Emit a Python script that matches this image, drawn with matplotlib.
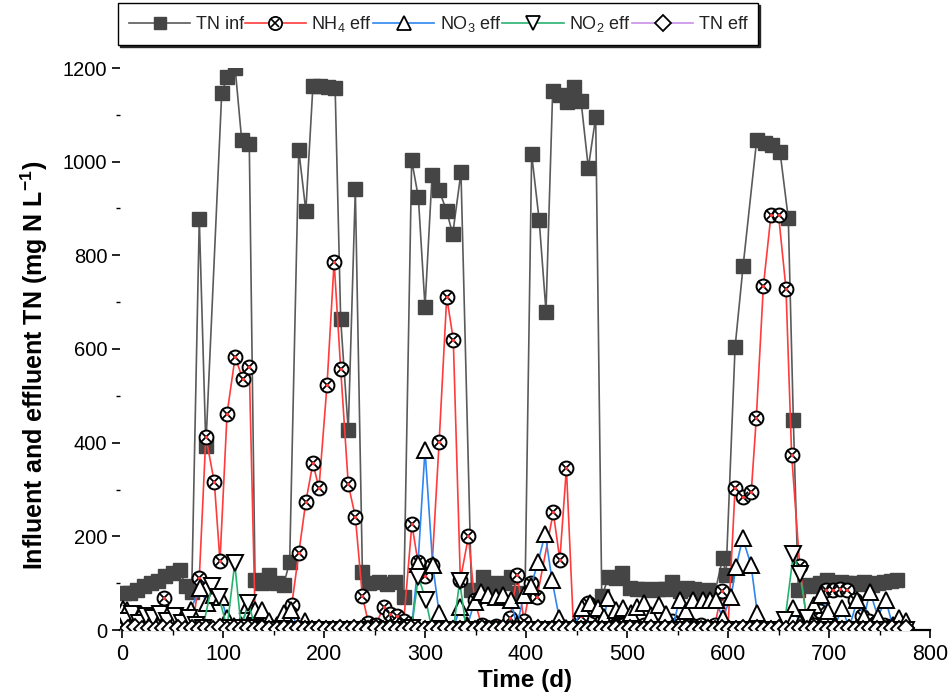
import matplotlib
matplotlib.use('Agg')
import matplotlib.pyplot as plt
from matplotlib.lines import Line2D
from matplotlib.ticker import MultipleLocator

plt.rcParams['font.family'] = ['Liberation Sans', 'DejaVu Sans']
plt.rcParams['mathtext.default'] = 'regular'

# ---------------- data ----------------
t_tn_inf = [2, 8, 15, 22, 29, 36, 43, 50, 57, 63, 69,
            76.5, 83, 98.7, 104, 112, 118.5, 126, 131.7, 139, 146, 153, 160, 166,
            175, 182, 189, 196, 204, 211, 216.5, 224, 231, 238, 245, 254, 262, 270, 279,
            286.8, 293.4, 300, 307, 314, 321.5, 327.4, 335.6, 346, 357, 364, 371, 378, 385, 392, 399,
            405.6, 413, 419.8, 426.4, 433.7, 440.3, 447.5, 454.5, 461.7, 469,
            475, 482, 489, 495, 503, 510, 517, 524, 531, 538, 545, 552, 559, 566, 573, 580, 587, 594.7, 598,
            607, 615, 628.4, 636.6, 644, 651.5, 659.7, 664.7, 669.6, 677, 684, 691, 698, 705, 711.5, 717,
            723, 729, 734.6, 743, 749, 754.5, 761, 767.6]
v_tn_inf = [78, 80, 85, 95, 100, 105, 115, 122, 128, 95, 82,
            878, 393, 1146, 1181, 1200, 1046, 1038, 107, 100, 118, 100, 96, 146,
            1025, 895, 1161, 1161, 1159, 1158, 663, 426, 941, 123, 100, 103, 98, 103, 71,
            1003, 924, 690, 972, 939, 894, 845, 977, 85, 114, 100, 95, 100, 114, 80, 75,
            1016, 876, 680, 1151, 1143, 1127, 1159, 1129, 987, 1095,
            72, 114, 110, 122, 89, 88, 87, 85, 87, 88, 103, 84, 90, 88, 82, 85, 80, 153, 117,
            604, 778, 1046, 1039, 1036, 1021, 879, 448, 86, 96, 95, 100, 107, 100, 103, 100,
            100, 98, 103, 96, 100, 103, 105, 107]

t_nh4 = [1, 8, 15, 22, 29, 36, 42, 49, 56, 63, 70,
         76.5, 83, 91.4, 97, 104, 112, 119.5, 126, 132, 139, 146, 153, 160,
         168, 175, 182, 189, 195, 203, 210, 216.5, 224, 231, 238, 244, 251, 259, 265, 272, 279,
         287, 293, 300, 307, 314, 321.5, 328, 335, 343, 349, 356, 363, 370, 377, 384, 391.4, 398, 405,
         411, 427, 433.5, 440, 447, 454, 461, 468, 475, 482, 489, 496, 503, 510, 517, 524, 531, 538,
         545, 552, 559, 566, 573, 580, 587, 594, 600,
         607, 615, 623, 628, 635, 642.6, 650, 657.4, 663, 671, 678, 685, 691, 697, 704, 711, 718,
         726, 733, 740, 747, 754, 761, 768]
v_nh4 = [10, 12, 20, 15, 25, 30, 68, 20, 15, 10, 8,
         111, 413, 315, 147, 462, 583, 536, 561, 8, 5, 8, 5, 10,
         53, 164, 274, 356, 303, 524, 786, 558, 311, 242, 72, 15, 10, 49, 35, 30, 20,
         226, 145, 115, 138, 402, 711, 620, 107, 200, 64, 10, 5, 8, 5, 25, 117, 20, 100,
         71, 251, 150, 346, 5, 30, 57, 40, 20, 15, 8, 10, 5, 8, 10, 5, 8, 5,
         20, 10, 5, 8, 10, 5, 10, 84, 5,
         303, 285, 294, 452, 734, 887, 887, 729, 374, 137, 20, 10, 40, 85, 85, 88, 85,
         64, 30, 20, 15, 10, 8, 5]

t_no3 = [1, 5, 12, 19, 26, 33, 40, 47, 54, 61, 68, 77, 84, 91, 98, 104, 111, 118, 125, 132,
         139, 146, 153, 160.7, 167, 174, 181, 188, 195, 202, 209, 216, 223, 230, 237, 244, 251, 258,
         265, 272, 279, 287, 293, 300, 307.6, 314, 321, 328, 335, 342, 349, 355.8, 362.4, 370, 377,
         384.8, 391, 398, 405, 412, 419, 425.7, 433, 440, 447, 455, 463, 471, 477.5, 481, 489, 496,
         504, 510, 517, 524, 532, 538.6, 545, 552, 558, 565, 575, 582, 588, 594.7, 603, 608, 614.5,
         622.8, 629, 636, 643, 650, 657, 664.7, 671, 678, 685, 692, 699, 706, 713, 720, 728, 734.7,
         740.6, 748.5, 756, 763, 769, 776]
v_no3 = [45, 43, 30, 35, 20, 28, 25, 20, 30, 25, 43, 90, 57, 75, 70, 25, 8, 10, 53, 43,
         43, 20, 10, 36, 43, 5, 20, 3, 3, 3, 3, 3, 3, 3, 3, 3, 3, 3,
         3, 3, 3, 10, 140, 385, 139, 36, 3, 3, 50, 10, 60, 82, 75, 70, 75,
         64, 10, 75, 94, 146, 206, 107, 25, 5, 3, 46, 57, 46, 28, 68, 43, 46,
         36, 50, 57, 32, 53, 34, 5, 64, 40, 64, 64, 64, 64, 25, 71, 135, 196,
         139, 36, 3, 3, 3, 3, 46, 16, 3, 53, 75, 40, 10, 46, 5, 64, 28,
         82, 28, 65, 10, 25, 20]

t_no2 = [3, 10, 17, 24, 31, 38, 45, 52, 59, 66, 73, 80, 89, 96, 104, 111.6, 118, 125, 132, 139,
         146, 153, 160, 167, 174, 181, 188, 195, 202, 209, 216, 223, 230, 237, 244, 251, 258, 265,
         272, 279, 286.8, 293.4, 300.7, 307, 314, 321, 328, 334.3, 341, 348, 355, 362, 369, 376,
         383, 390, 397, 404, 411, 418, 425, 432, 439, 446, 453, 460, 467, 474, 481, 488, 495, 502,
         509, 516, 523, 530, 537, 544, 551, 558, 565, 572, 579, 586, 593, 600, 607, 614, 621, 628,
         635, 642, 649, 656.4, 664.7, 671.3, 678, 685, 692, 699, 706, 713, 720, 727, 734, 741, 748,
         755, 762, 769, 776]
v_no2 = [20, 35, 15, 30, 25, 35, 20, 30, 15, 25, 10, 5, 95, 70, 5, 142, 5, 58, 5, 0,
         0, 0, 0, 0, 0, 0, 0, 0, 0, 0, 0, 0, 0, 0, 0, 0, 0, 0,
         0, 0, 5, 114, 65, 0, 0, 0, 0, 104, 0, 0, 0, 0, 0, 0,
         0, 0, 0, 0, 0, 0, 0, 0, 0, 0, 0, 0, 0, 0, 0, 0, 0, 0,
         0, 0, 0, 0, 0, 0, 0, 0, 0, 0, 0, 0, 0, 0, 0, 0, 0, 0,
         0, 0, 0, 21, 162, 119, 25, 0, 0, 0, 0, 0, 0, 0, 0, 0, 0,
         0, 0, 0, 0]

t_tn_eff = [6, 13, 20, 27, 34, 41, 48, 55, 62, 69, 76, 83, 90, 97, 104, 111, 118, 125, 132, 139,
            146, 153, 160, 167, 174, 181, 188, 195, 202, 209, 216, 223, 230, 237, 244, 251, 258, 265,
            272, 279, 286, 293, 300, 307, 314, 321, 328, 335, 342, 349, 356, 363, 370, 377, 384, 391,
            398, 405, 412, 419, 426, 433, 440, 447, 454, 461, 468, 475, 482, 489, 496, 503, 510, 517,
            524, 531, 538, 545, 552, 559, 566, 573, 580, 587, 594, 601, 608, 615, 622, 629, 636, 643,
            650, 657, 664, 671, 678, 685, 692, 699, 706, 713, 720, 727, 734, 741, 748, 755, 762, 769, 776]
v_tn_eff = [4, 6, 3, 5, 2, 4, 3, 5, 2, 4,
            3, 5, 3, 6, 2, 4, 3, 5, 2, 4,
            3, 2, 4, 3, 5, 2, 3, 4, 2, 3,
            5, 2, 4, 3, 2, 4, 3, 5, 2, 3,
            4, 2, 3, 5, 2, 4, 3, 2, 4, 3,
            5, 2, 3, 4, 2, 3, 5, 2, 4, 3,
            2, 4, 3, 5, 2, 3, 4, 2, 3, 5,
            2, 4, 3, 2, 4, 3, 5, 2, 3, 4,
            2, 3, 5, 2, 4, 3, 2, 4, 3, 5,
            2, 3, 4, 2, 3, 5, 2, 4, 3, 2,
            4, 3, 5, 2, 3, 4, 2, 3, 5, 2,
            4]

labels = ['TN inf', 'NH$_4$ eff', 'NO$_3$ eff', 'NO$_2$ eff', 'TN eff']
x_ticks = [0, 100, 200, 300, 400, 500, 600, 700, 800]
y_ticks = [0, 200, 400, 600, 800, 1000, 1200]

# ---------------- style ----------------
c_tn = '#5a5a5a'
c_tn_m = '#454545'
c_nh4 = '#ff3b3b'
c_no3 = '#2f86f0'
c_no2 = '#27b36f'
c_eff = '#c890e8'
LW = 1.2

fig = plt.figure(figsize=(9.53, 6.96), dpi=100)
ax = fig.add_axes([120 / 953, 66 / 696, 810 / 953, 562 / 696])

ax.plot(t_tn_inf, v_tn_inf, color=c_tn, lw=LW, marker='s', ms=9.5,
        mfc=c_tn_m, mec=c_tn_m, zorder=2)
ax.plot(t_nh4, v_nh4, color=c_nh4, lw=LW, marker='o', ms=10,
        mfc='white', mec='black', mew=1.4, zorder=3)
ax.plot(t_nh4, v_nh4, ls='none', marker='x', ms=6.5, color='black', mew=1.3, zorder=3)
ax.plot(t_nh4, v_nh4, ls='none', marker='o', ms=2.4, color=c_nh4, mew=0, zorder=3)
ax.plot(t_no3, v_no3, color=c_no3, lw=LW, marker='^', ms=11,
        mfc='white', mec='black', mew=1.4, zorder=4)
ax.plot(t_no2, v_no2, color=c_no2, lw=LW, marker='v', ms=11,
        mfc='white', mec='black', mew=1.4, zorder=5)
ax.plot(t_tn_eff, v_tn_eff, color=c_eff, lw=LW, marker='D', ms=8,
        mfc='white', mec='black', mew=1.4, zorder=6)

ax.set_xlim(-2, 800)
ax.set_ylim(0, 1200)
ax.set_xticks(x_ticks)
ax.set_yticks(y_ticks)
ax.xaxis.set_minor_locator(MultipleLocator(50))
ax.yaxis.set_minor_locator(MultipleLocator(100))

for s in ['top', 'right', 'left']:
    ax.spines[s].set_visible(False)
ax.spines['bottom'].set_linewidth(1.6)

ax.tick_params(axis='y', which='major', direction='out', length=6, width=1.2,
               labelsize=14.5, pad=3)
ax.tick_params(axis='y', which='minor', direction='out', length=3, width=1)
ax.tick_params(axis='x', which='major', direction='out', length=6, width=1.2,
               labelsize=15.5, pad=4)
ax.tick_params(axis='x', which='minor', direction='out', length=3.5, width=1)

ax.set_xlabel('Time (d)', fontsize=17.5, fontweight='bold', labelpad=3)
ax.set_ylabel('Influent and effluent TN (mg N L$^{-1}$)', fontsize=18,
              fontweight='bold')
ax.yaxis.set_label_coords(-0.086, 0.47)

# ---------------- legend ----------------
h1 = Line2D([], [], color=c_tn, lw=LW, marker='s', ms=9, mfc=c_tn_m, mec=c_tn_m)
h2 = (Line2D([], [], color=c_nh4, lw=LW, marker='o', ms=9.5, mfc='white', mec='black', mew=1.3),
      Line2D([], [], ls='none', marker='x', ms=6, color='black', mew=1.2))
h3 = Line2D([], [], color=c_no3, lw=LW, marker='^', ms=10.5, mfc='white', mec='black', mew=1.3)
h4 = Line2D([], [], color=c_no2, lw=LW, marker='v', ms=10.5, mfc='white', mec='black', mew=1.3)
h5 = Line2D([], [], color=c_eff, lw=LW, marker='D', ms=8, mfc='white', mec='black', mew=1.3)

leg = fig.legend([h1, h2, h3, h4, h5], labels, loc='upper left',
                 bbox_to_anchor=(118 / 953, 1 - 3 / 696), borderaxespad=0,
                 ncol=5, frameon=True,
                 fancybox=False, edgecolor='black', fontsize=13, handlelength=3.4,
                 handletextpad=0.3, columnspacing=0.05, borderpad=0.6, numpoints=1,
                 shadow={'ox': 1.5, 'oy': -1.5, 'color': '0.15', 'alpha': 1})
leg.get_frame().set_linewidth(1.0)
for txt in leg.get_texts():
    txt.set_color('#222222')

fig.savefig('out.png', dpi=100)
